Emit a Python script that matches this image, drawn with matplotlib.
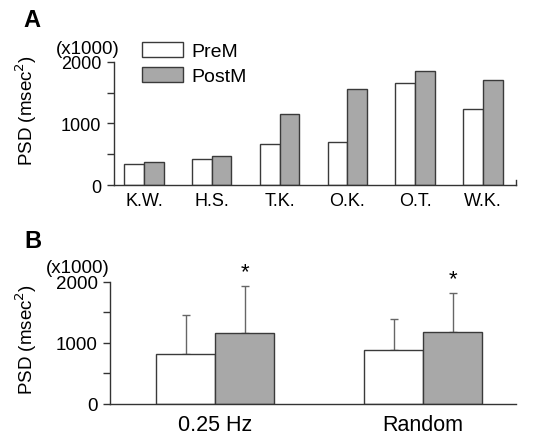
import numpy as np
import matplotlib
matplotlib.use("Agg")
import matplotlib.pyplot as plt

plt.rcParams['font.family'] = ['Liberation Sans', 'DejaVu Sans']

# panel A: individual subjects
subjects = ['K.W.', 'H.S.', 'T.K.', 'O.K.', 'O.T.', 'W.K.']
pre_a = [348, 424, 663, 696, 1658, 1234]
post_a = [370, 467, 1158, 1565, 1853, 1701]

# panel B: group means with SD (upper only)
conditions = ['0.25 Hz', 'Random']
pre_b = [817, 877]
pre_b_sd = [638, 513]
post_b = [1155, 1177]
post_b_sd = [769, 638]
signif = ['*', '*']

pre_color = 'white'
post_color = '#a8a8a8'
edge = '#3a3a3a'
axcol = '#333333'

fig = plt.figure(figsize=(5.43, 4.35), dpi=100)

def style_axis(ax, fs):
    for s in ['top', 'right']:
        ax.spines[s].set_visible(False)
    for s in ['left', 'bottom']:
        ax.spines[s].set_color(axcol)
        ax.spines[s].set_linewidth(1.0)
    ax.set_ylim(0, 2000)
    ax.set_yticks([0, 1000, 2000])
    ax.set_yticks([500, 1500], minor=True)
    ax.tick_params(axis='y', which='both', direction='out', length=5, width=1,
                   color=axcol, labelsize=fs, pad=4)
    ax.tick_params(axis='x', length=0)

# ---- panel A
axA = fig.add_axes([0.2099, 0.5724, 0.7403, 0.2828])
x = np.arange(len(subjects))
w = 0.29
bA1 = axA.bar(x - w/2, pre_a, w, color=pre_color, edgecolor=edge, linewidth=1, label='PreM')
bA2 = axA.bar(x + w/2, post_a, w, color=post_color, edgecolor=edge, linewidth=1, label='PostM')
axA.set_xlim(-0.442, 5.487)
axA.set_xticks(x)
axA.set_xticklabels(subjects, fontsize=13)
style_axis(axA, 13)
axA.tick_params(axis='x', pad=5)
axA.axvline(axA.get_xlim()[1], ymin=0, ymax=0.04, color=axcol, lw=1, clip_on=False)
axA.set_ylabel('PSD (msec$^2$)', fontsize=13.5)
axA.yaxis.set_label_coords(-0.186, 0.615)
axA.text(0.015, 1.04, '(x1000)', transform=axA.transAxes, ha='right', va='bottom', fontsize=13.5)
axA.legend(handles=[bA1, bA2], loc='upper left', bbox_to_anchor=(0.07, 1.165),
           frameon=False, fontsize=14, handlelength=2.1, handleheight=0.85,
           handletextpad=0.45, labelspacing=0.35, borderaxespad=0, borderpad=0)
fig.text(0.044, 0.952, 'A', fontsize=17, fontweight='bold', va='center', ha='left')

# ---- panel B
axB = fig.add_axes([0.2026, 0.069, 0.7477, 0.2811])
xb = np.arange(len(conditions))
wb = 0.284
axB.errorbar(xb - wb/2, pre_b, yerr=[np.zeros(len(pre_b)), pre_b_sd], fmt='none',
             ecolor='#666666', elinewidth=1, capsize=3, capthick=1, zorder=1)
axB.errorbar(xb + wb/2, post_b, yerr=[np.zeros(len(post_b)), post_b_sd], fmt='none',
             ecolor='#666666', elinewidth=1, capsize=3, capthick=1, zorder=1)
axB.bar(xb - wb/2, pre_b, wb, color=pre_color, edgecolor=edge, linewidth=1, zorder=2)
axB.bar(xb + wb/2, post_b, wb, color=post_color, edgecolor=edge, linewidth=1, zorder=2)
for xi, m, s, t in zip(xb, post_b, post_b_sd, signif):
    axB.annotate(t, (xi + wb/2, m + s), xytext=(0, 3), textcoords='offset points',
                 ha='center', va='bottom', fontsize=16, annotation_clip=False)
axB.set_xlim(-0.505, 1.447)
axB.set_xticks(xb)
axB.set_xticklabels(conditions, fontsize=15.5)
style_axis(axB, 13.5)
axB.tick_params(axis='x', pad=7)
axB.set_ylabel('PSD (msec$^2$)', fontsize=13.5)
axB.yaxis.set_label_coords(-0.176, 0.536)
axB.text(0.0, 1.05, '(x1000)', transform=axB.transAxes, ha='right', va='bottom', fontsize=13.5)
fig.text(0.044, 0.445, 'B', fontsize=17, fontweight='bold', va='center', ha='left')

fig.savefig('out.png', dpi=100)
